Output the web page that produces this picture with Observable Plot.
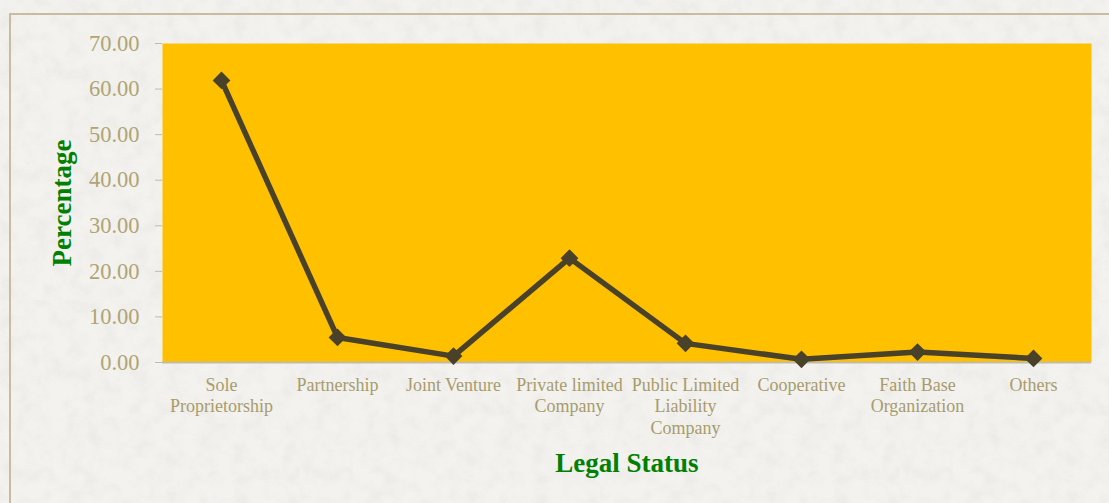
<!DOCTYPE html>
<html>
<head>
<meta charset="utf-8">
<script src="https://cdn.jsdelivr.net/npm/d3@7"></script>
<script src="https://cdn.jsdelivr.net/npm/@observablehq/plot@0.6"></script>
<style>
  html, body { margin: 0; padding: 0; }
  body {
    width: 1109px; height: 503px; overflow: hidden; position: relative;
    background-color: #efeeeb;
    background-image: url("data:image/svg+xml;utf8,<svg xmlns='http://www.w3.org/2000/svg' width='300' height='300'><filter id='n'><feTurbulence type='fractalNoise' baseFrequency='0.06' numOctaves='4' seed='3'/><feColorMatrix values='0 0 0 0 0.55  0 0 0 0 0.54  0 0 0 0 0.52  0 0 0 0.9 -0.35'/></filter><rect width='300' height='300' fill='%23f3f2ef'/><rect width='300' height='300' filter='url(%23n)' opacity='0.35'/></svg>");
    font-family: "Liberation Serif", "DejaVu Serif", serif;
  }
  #frame { position: absolute; left: 9px; top: 13px; width: 1200px; height: 600px;
    border-left: 2px solid #c6bd9f; border-top: 2px solid #c6bd9f; }
  #chart { position: absolute; left: 0; top: 0; }
  .title { position: absolute; color: #008000; font-weight: bold; white-space: nowrap; }
  #ytitle { font-size: 27px; left: 62px; top: 203px; transform: translate(-50%, -50%) rotate(-90deg); }
  #xtitle { font-size: 27px; left: 627px; top: 463px; transform: translate(-50%, -50%); }
</style>
</head>
<body>
<div id="frame"></div>
<div id="chart"></div>
<div class="title" id="ytitle">Percentage</div>
<div class="title" id="xtitle">Legal Status</div>
<script>
const categories = ["Sole Proprietorship", "Partnership", "Joint Venture", "Private limited Company",
  "Public Limited Liability Company", "Cooperative", "Faith Base Organization", "Others"];
const tickLabels = ["Sole\nProprietorship", "Partnership", "Joint Venture", "Private limited\nCompany",
  "Public Limited\nLiability\nCompany", "Cooperative", "Faith Base\nOrganization", "Others"];
const percentages = [61.9, 5.5, 1.4, 22.9, 4.2, 0.7, 2.3, 0.9];
const yTicks = [0, 10, 20, 30, 40, 50, 60, 70];

const data = categories.map((c, i) => ({category: c, value: percentages[i]}));
const labelOf = new Map(categories.map((c, i) => [c, tickLabels[i]]));

const chart = Plot.plot({
  width: 1109,
  height: 503,
  marginLeft: 162,
  marginRight: 18,
  marginTop: 43,
  marginBottom: 141,
  style: {background: "transparent", fontFamily: "Liberation Serif, DejaVu Serif, serif", overflow: "visible"},
  x: {type: "point", domain: categories, padding: 0.5},
  y: {domain: [0, 70]},
  marks: [
    Plot.frame({fill: "#ffc000", stroke: null}),
    Plot.ruleY([0], {stroke: "#c2bca6", strokeWidth: 2}),
    Plot.ruleX([0], {frameAnchor: "left", stroke: "#c2bca6", strokeWidth: 1.5}),
    Plot.axisY({ticks: yTicks, tickFormat: d => d.toFixed(2), tickSize: 7, tickPadding: 16,
      fontSize: 22.5, color: "#b0a473", stroke: "#c2bca6", label: null}),
    Plot.axisX({tickFormat: d => labelOf.get(d), tickSize: 0, tickPadding: 13,
      fontSize: 18, lineHeight: 1.2, color: "#a89c6c", label: null}),
    Plot.line(data, {x: "category", y: "value", stroke: "#4a4228", strokeWidth: 5.5, strokeLinejoin: "round"}),
    Plot.dot(data, {x: "category", y: "value", symbol: "diamond2", r: 8, fill: "#4a4228", stroke: "none"})
  ]
});
document.getElementById("chart").appendChild(chart);
</script>
</body>
</html>
